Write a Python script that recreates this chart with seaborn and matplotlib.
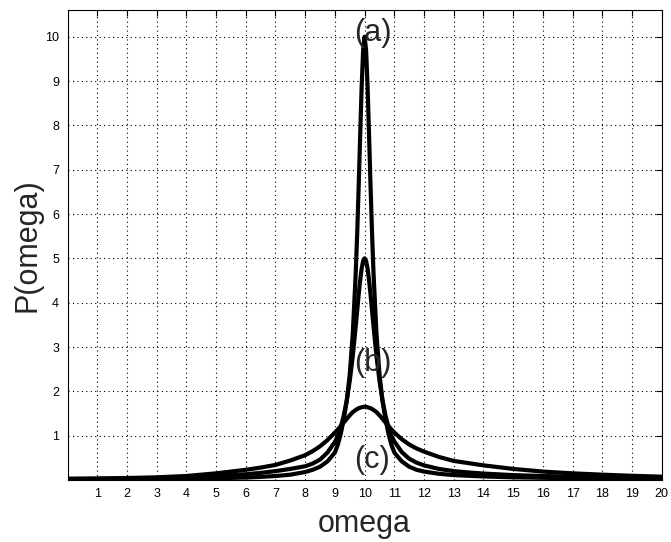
import numpy as np
import pandas as pd
import matplotlib
matplotlib.use("Agg")
import matplotlib.pyplot as plt
import seaborn as sns

# -------------------------------
# Data
# -------------------------------
omega = [0, 1, 2, 3, 4, 5, 6,
         6.5, 7, 7.5, 8,
         8.25, 8.5, 8.75, 9,
         9.1, 9.2, 9.3, 9.4, 9.5, 9.6, 9.7,
         9.75, 9.8, 9.85, 9.9, 9.95,
         10,
         10.05, 10.1, 10.15, 10.2, 10.25,
         10.3, 10.4, 10.5, 10.6, 10.7, 10.8, 10.9, 11,
         11.25, 11.5, 11.75, 12,
         12.5, 13, 13.5, 14,
         15, 16, 17, 18, 19, 20]

p_a = [0.01, 0.012, 0.015, 0.02, 0.03, 0.04, 0.055,
       0.07, 0.09, 0.12, 0.18,
       0.23, 0.3, 0.42, 0.62,
       0.8, 1.05, 1.38, 1.79, 2.39, 3.29, 4.66,
       5.56, 6.62, 7.77, 8.87, 9.69,
       10.0,
       9.69, 8.87, 7.77, 6.62, 5.56,
       4.66, 3.29, 2.39, 1.79, 1.38, 1.05, 0.8, 0.62,
       0.42, 0.3, 0.23, 0.19,
       0.14, 0.11, 0.095, 0.08,
       0.06, 0.05, 0.04, 0.035, 0.03, 0.025]

p_b = [0.02, 0.025, 0.03, 0.04, 0.06, 0.09, 0.13,
       0.16, 0.2, 0.25, 0.31,
       0.37, 0.46, 0.62, 0.86,
       1.0, 1.2, 1.46, 1.8, 2.24, 2.79, 3.46,
       3.82, 4.18, 4.5, 4.77, 4.94,
       5.0,
       4.94, 4.77, 4.5, 4.18, 3.82,
       3.46, 2.79, 2.24, 1.8, 1.46, 1.2, 1.0, 0.87,
       0.63, 0.48, 0.39, 0.33,
       0.25, 0.2, 0.17, 0.145,
       0.11, 0.09, 0.075, 0.065, 0.055, 0.048]

p_c = [0.03, 0.035, 0.045, 0.06, 0.09, 0.15, 0.23,
       0.28, 0.34, 0.44, 0.56,
       0.65, 0.76, 0.9, 1.07,
       1.14, 1.22, 1.3, 1.38, 1.46, 1.53, 1.58,
       1.6, 1.62, 1.63, 1.64, 1.65,
       1.65,
       1.65, 1.64, 1.63, 1.62, 1.6,
       1.58, 1.53, 1.46, 1.38, 1.3, 1.22, 1.14, 1.07,
       0.92, 0.8, 0.71, 0.64,
       0.52, 0.43, 0.38, 0.33,
       0.25, 0.19, 0.15, 0.12, 0.095, 0.075]

curve_labels = ["(a)", "(b)", "(c)"]
label_x = [10.28, 10.28, 10.24]
label_y = [10.09, 2.64, 0.45]

x_ticks = list(range(1, 21))
y_ticks = list(range(1, 11))

# -------------------------------
# Style
# -------------------------------
sns.set_style("white")
plt.rcParams['font.family'] = ['Liberation Sans', 'DejaVu Sans']

fig = plt.figure(figsize=(6.71, 5.42), dpi=100)
ax = fig.add_axes([0.1006, 0.1144, 0.8856, 0.867])

# -------------------------------
# Curves
# -------------------------------
for vals in [p_a, p_b, p_c]:
    sns.lineplot(x=omega, y=vals, ax=ax, color='black', linewidth=3, sort=False)

for lab, lx, ly in zip(curve_labels, label_x, label_y):
    ax.text(lx, ly, lab, fontsize=22, ha='center', va='center')

ax.set_xlim(0, 20)
ax.set_ylim(0, 10.6)
ax.set_xticks(x_ticks)
ax.set_yticks(y_ticks)
ax.tick_params(direction='in', top=True, right=True, length=4, width=0.8,
               labelsize=9, colors='black', pad=6)
ax.grid(True, color='black', linestyle=(0, (1, 3)), linewidth=0.8)

for sp in ax.spines.values():
    sp.set_color('black')
    sp.set_linewidth(0.8)

ax.set_xlabel('omega', fontsize=22, labelpad=6)
ax.set_ylabel('P(omega)', fontsize=22, labelpad=2)

plt.savefig('out.png', dpi=100)
